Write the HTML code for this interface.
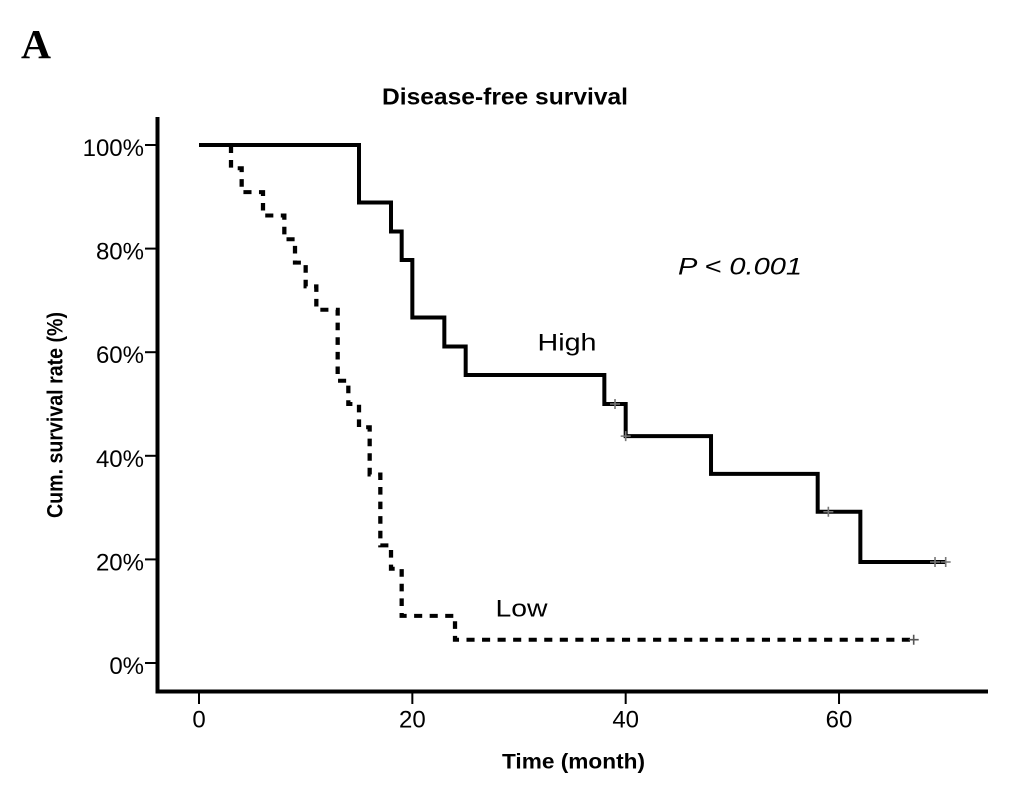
<!DOCTYPE html>
<html>
<head>
<meta charset="utf-8">
<style>
html,body{margin:0;padding:0;background:#fff;}
svg{display:block;}
text{font-family:"Liberation Sans",sans-serif;fill:#000;}
</style>
</head>
<body>
<svg id="chart" width="1033" height="800" viewBox="0 0 1033 800" xmlns="http://www.w3.org/2000/svg">
<rect x="0" y="0" width="1033" height="800" fill="#fff"/>
<text x="21" y="58" textLength="30" lengthAdjust="spacingAndGlyphs" style="font-family:'Liberation Serif',serif;font-weight:bold;font-size:41px;">A</text>
<text x="382" y="104.5" textLength="246" lengthAdjust="spacingAndGlyphs" font-weight="bold" font-size="23">Disease-free survival</text>
<text transform="translate(62.5,518) rotate(-90)" textLength="206" lengthAdjust="spacingAndGlyphs" font-weight="bold" font-size="22">Cum. survival rate (%)</text>
<text x="502" y="768.5" textLength="143" lengthAdjust="spacingAndGlyphs" font-weight="bold" font-size="21">Time (month)</text>
<text x="678" y="274.5" textLength="124" lengthAdjust="spacingAndGlyphs" font-style="italic" font-size="24">P &lt; 0.001</text>
<text x="537.5" y="350.5" textLength="59" lengthAdjust="spacingAndGlyphs" font-size="24">High</text>
<text x="495.5" y="616.5" textLength="52" lengthAdjust="spacingAndGlyphs" font-size="24">Low</text>
<g id="axes"></g>
<g id="series"></g>
</svg>
<script>
const xTicks = [0, 20, 40, 60];
const yTicks = [0, 20, 40, 60, 80, 100];

const highTimes = [0, 15, 18, 19, 20, 23, 25, 38, 40, 48, 58, 62];
const highSurvival = [100, 88.9, 83.3, 77.8, 66.7, 61.1, 55.6, 50, 43.8, 36.5, 29.2, 19.5];
const highEnd = 70;
const highCensorTimes = [39, 40, 59, 69, 70];

const lowTimes = [0, 3, 4, 6, 8, 9, 10, 11, 13, 14, 15, 16, 17, 18, 19, 24];
const lowSurvival = [100, 95.5, 90.9, 86.4, 81.8, 77.3, 72.7, 68.2, 54.5, 50, 45.5, 36.4, 22.7, 18.2, 9.1, 4.5];
const lowEnd = 67;
const lowCensorTimes = [67];

const NS = 'http://www.w3.org/2000/svg';
const dashStretch = 1.065;
const xScale = function (t) { return 199 + t * 10.667; };
const yScale = function (s) { return 663 - s * 5.18; };
const axesGroup = document.getElementById('axes');
const seriesGroup = document.getElementById('series');

function make(tag, attrs, parent) {
  const el = document.createElementNS(NS, tag);
  Object.keys(attrs).forEach(function (k) { el.setAttribute(k, attrs[k]); });
  parent.appendChild(el);
  return el;
}

const yAxisLine = make('line', {x1: 157.5, y1: 117, x2: 157.5, y2: 693, stroke: '#000', 'stroke-width': 4}, axesGroup);


const xAxisLine = make('line', {x1: 155.5, y1: 691.5, x2: 988, y2: 691.5, stroke: '#000', 'stroke-width': 4}, axesGroup);



yTicks.forEach(function (v) {
  const tick = make('line', {x1: 145, y1: yScale(v), x2: 157, y2: yScale(v), stroke: '#000', 'stroke-width': 2}, axesGroup);
  
  
  const label = make('text', {x: 144, y: yScale(v) + 11, 'text-anchor': 'end', 'font-size': 24}, axesGroup);
  label.textContent = v + '%';
  
  
});

xTicks.forEach(function (v) {
  const tick = make('line', {x1: xScale(v), y1: 692, x2: xScale(v), y2: 704, stroke: '#000', 'stroke-width': 2}, axesGroup);
  
  
  const label = make('text', {x: xScale(v), y: 727.5, 'text-anchor': 'middle', 'font-size': 24}, axesGroup);
  label.textContent = String(v);
  
  
});

function stepPath(times, values, end, stretch) {
  let d = 'M' + xScale(times[0]) / stretch + ' ' + yScale(values[0]);
  for (let i = 1; i < times.length; i++) {
    d += ' H' + xScale(times[i]) / stretch + ' V' + yScale(values[i]);
  }
  return d + ' H' + xScale(end) / stretch;
}

function survivalAt(times, values, t) {
  let s = values[0];
  for (let i = 0; i < times.length; i++) {
    if (times[i] <= t) { s = values[i]; }
  }
  return s;
}

const highLine = make('path', {d: stepPath(highTimes, highSurvival, highEnd, 1), fill: 'none', stroke: '#000', 'stroke-width': 4, 'stroke-linejoin': 'miter'}, seriesGroup);



const lowLine = make('path', {d: stepPath(lowTimes, lowSurvival, lowEnd, dashStretch), transform: 'scale(' + dashStretch + ',1)', fill: 'none', stroke: '#000', 'stroke-width': 4, 'stroke-dasharray': '7.6 7', 'stroke-dashoffset': -1.25}, seriesGroup);



function censor(times, values, t, colour) {
  const cx = xScale(t);
  const cy = yScale(survivalAt(times, values, t));
  const mark = make('path', {d: 'M' + (cx - 5) + ' ' + cy + ' H' + (cx + 5) + ' M' + cx + ' ' + (cy - 5) + ' V' + (cy + 5), fill: 'none', stroke: colour, 'stroke-width': 1.6}, seriesGroup);
  
  
}
highCensorTimes.forEach(function (t) { censor(highTimes, highSurvival, t, '#777'); });
lowCensorTimes.forEach(function (t) { censor(lowTimes, lowSurvival, t, '#555'); });
</script>
</body>
</html>
